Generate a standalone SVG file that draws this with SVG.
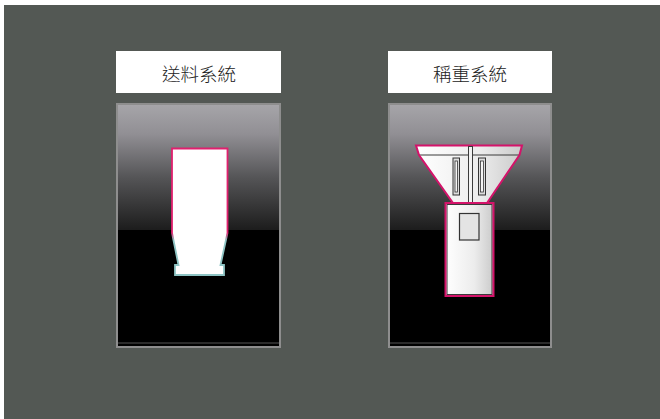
<svg xmlns="http://www.w3.org/2000/svg" width="660" height="419" viewBox="0 0 660 419">
  <style>
    .label-box { fill: #ffffff; }
    .label { font-family: "Noto Sans CJK TC", "Noto Sans CJK SC", sans-serif; font-size: 18.5px; font-weight: 300; fill: #222222; text-anchor: middle; dominant-baseline: central; }
    .frame { fill: #8e8e8e; }
    .screen { fill: url(#screenGrad); }
    .edge { fill: none; stroke: #d4136a; stroke-width: 2; stroke-linejoin: miter; }
    .inner { fill: none; stroke: #3a3a3a; stroke-width: 1; }
  </style>
  <defs>
    <linearGradient id="screenGrad" x1="0" y1="0" x2="0" y2="1">
      <stop offset="0" stop-color="#a6a5a9"/>
      <stop offset="0.12" stop-color="#918f94"/>
      <stop offset="0.3" stop-color="#555557"/>
      <stop offset="0.52" stop-color="#1c1c1c"/>
      <stop offset="0.52" stop-color="#000000"/>
      <stop offset="1" stop-color="#000000"/>
    </linearGradient>
    <linearGradient id="metal" x1="0" y1="0" x2="1" y2="0">
      <stop offset="0" stop-color="#ffffff"/>
      <stop offset="0.6" stop-color="#ececec"/>
      <stop offset="1" stop-color="#cacaca"/>
    </linearGradient>
    <linearGradient id="feederEdge" gradientUnits="userSpaceOnUse" x1="0" y1="148" x2="0" y2="276">
      <stop offset="0" stop-color="#e0206e"/>
      <stop offset="0.66" stop-color="#e0206e"/>
      <stop offset="0.72" stop-color="#8ec4c4"/>
      <stop offset="1" stop-color="#8ec4c4"/>
    </linearGradient>
  </defs>

  <!-- backdrop -->
  <rect x="0" y="0" width="660" height="419" fill="#ffffff"/>
  <rect x="4" y="5" width="656" height="414" fill="#535854"/>

  <!-- feeding system panel -->
  <g id="feeding-system">
    <rect class="label-box" x="116" y="51" width="165" height="42"/>
    <text class="label" x="199" y="73">送料系統</text>
    <rect class="frame" x="116" y="103" width="165" height="245"/>
    <rect class="screen" x="118" y="105" width="161" height="241"/>
    <rect x="118" y="342" width="161" height="2" fill="#2a2a2a"/>
    <path d="M172,148.5 H227.5 V233 L220.5,265 H224 V275 H175 V265 H178.5 L172,233 Z"
          fill="#ffffff" stroke="url(#feederEdge)" stroke-width="1.8"/>
  </g>

  <!-- weighing system panel -->
  <g id="weighing-system">
    <rect class="label-box" x="388" y="51" width="164" height="42"/>
    <text class="label" x="470" y="73">稱重系統</text>
    <rect class="frame" x="388" y="103" width="164" height="245"/>
    <rect class="screen" x="390" y="105" width="160" height="241"/>
    <rect x="390" y="342" width="160" height="2" fill="#2a2a2a"/>

    <!-- hopper -->
    <path d="M416,145.5 H522 L519.5,155 L487,203 H453 L419,155 Z" fill="url(#metal)"/>
    <path d="M419,155 H519.5" class="inner"/>
    <path d="M416,145.5 H522 L519.5,155 L487,203 H453 L419,155 Z" class="edge"/>
    <rect x="468.5" y="146.5" width="4" height="57" fill="#f2f2f2" stroke="#3a3a3a" stroke-width="1"/>
    <!-- sight slots -->
    <rect x="453" y="158" width="6.5" height="37" fill="#dcdcdc" stroke="#333333" stroke-width="1"/>
    <rect x="455" y="161" width="2.5" height="31" fill="#f4f4f4" stroke="#333333" stroke-width="0.8"/>
    <rect x="478.5" y="158" width="7" height="37" fill="#dcdcdc" stroke="#333333" stroke-width="1"/>
    <rect x="480.5" y="161" width="3" height="31" fill="#f4f4f4" stroke="#333333" stroke-width="0.8"/>

    <!-- weigh body -->
    <rect x="445.5" y="203" width="48" height="93" fill="url(#metal)"/>
    <rect x="447" y="204.5" width="45" height="90" class="inner"/>
    <rect x="445.5" y="203" width="48" height="93" class="edge"/>
    <rect x="459.5" y="213.5" width="19.5" height="26.5" fill="#e4e4e4" stroke="#333333" stroke-width="1.2"/>
  </g>
</svg>
